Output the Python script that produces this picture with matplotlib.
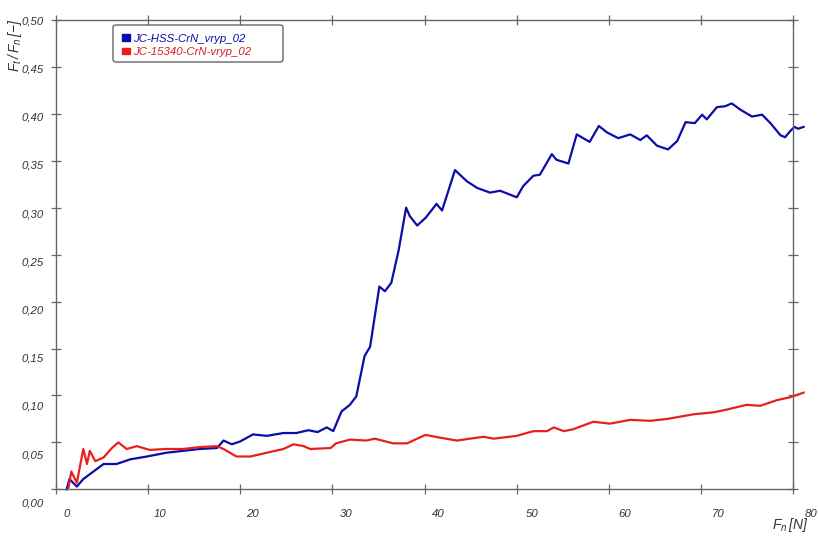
import matplotlib
matplotlib.use("Agg")
import matplotlib.pyplot as plt
import matplotlib.transforms as mtransforms
from matplotlib.patches import Patch, FancyBboxPatch

plt.rcParams['font.family'] = ['Liberation Sans', 'DejaVu Sans']
plt.rcParams['font.style'] = 'italic'
plt.rcParams['mathtext.fontset'] = 'custom'
plt.rcParams['mathtext.it'] = 'Liberation Sans:italic'
plt.rcParams['mathtext.rm'] = 'Liberation Sans:italic'

# friction coefficient vs normal load, two scratch tests
hss_label = "JC-HSS-CrN_vryp_02"
hss_x = [1.2, 1.5, 2.3, 3.0, 4.1, 5.2, 6.6, 8.1, 9.9, 12.0,
         13.8, 15.6, 17.5, 18.2, 19.1, 20.0, 21.4, 22.9, 24.7, 26.1,
         27.4, 28.4, 29.4, 30.1, 31.0, 31.9, 32.6, 33.5, 34.1, 35.1,
         35.7, 36.4, 37.2, 38.0, 38.4, 39.2, 40.1, 41.3, 41.9, 43.3,
         44.6, 45.7, 47.1, 48.2, 50.0, 50.7, 51.8, 52.5, 53.8, 54.3,
         55.6, 56.5, 57.9, 58.9, 59.8, 61.0, 62.3, 63.4, 64.1, 65.2,
         66.4, 67.4, 68.3, 69.3, 70.1, 70.6, 71.7, 72.6, 73.3, 74.3,
         75.5, 76.6, 77.5, 78.6, 79.1, 79.6, 80.1, 80.5, 81.1]
hss_y = [0.0, 0.011, 0.003, 0.011, 0.019, 0.027, 0.027, 0.032, 0.035, 0.039,
         0.041, 0.043, 0.044, 0.052, 0.048, 0.051, 0.0585, 0.057, 0.060, 0.060,
         0.063, 0.061, 0.066, 0.062, 0.083, 0.090, 0.099, 0.142, 0.152, 0.216,
         0.211, 0.220, 0.255, 0.300, 0.291, 0.281, 0.289, 0.304, 0.297, 0.340,
         0.328, 0.321, 0.316, 0.318, 0.311, 0.323, 0.334, 0.335, 0.357, 0.351,
         0.347, 0.378, 0.370, 0.387, 0.380, 0.374, 0.378, 0.372, 0.377, 0.366,
         0.362, 0.371, 0.391, 0.390, 0.399, 0.394, 0.407, 0.408, 0.411, 0.404,
         0.397, 0.399, 0.390, 0.377, 0.375, 0.381, 0.386, 0.384, 0.386]

steel_label = "JC-15340-CrN-vryp_02"
steel_x = [1.4, 1.7, 2.3, 3.0, 3.4, 3.7, 4.3, 5.2, 6.1, 6.8,
           7.7, 8.8, 10.2, 12.0, 13.8, 15.6, 17.5, 18.2, 19.6, 21.1,
           22.9, 24.7, 25.8, 26.9, 27.6, 29.8, 30.4, 31.9, 33.7, 34.6,
           36.6, 38.1, 40.1, 41.7, 43.5, 46.4, 47.5, 50.0, 51.8, 53.3,
           54.0, 55.1, 56.1, 58.3, 60.1, 62.3, 64.5, 66.3, 69.2, 71.3,
           72.8, 74.9, 76.4, 78.2, 79.6, 81.1]
steel_y = [0.002, 0.019, 0.007, 0.043, 0.027, 0.041, 0.030, 0.034, 0.044, 0.050,
           0.043, 0.046, 0.042, 0.043, 0.043, 0.045, 0.046, 0.043, 0.035, 0.035,
           0.039, 0.043, 0.048, 0.046, 0.043, 0.044, 0.049, 0.053, 0.052, 0.054,
           0.049, 0.049, 0.058, 0.055, 0.052, 0.056, 0.054, 0.057, 0.062, 0.062,
           0.066, 0.062, 0.064, 0.072, 0.070, 0.074, 0.073, 0.075, 0.080, 0.082,
           0.085, 0.090, 0.089, 0.095, 0.098, 0.103]

x_ticks = [0, 10, 20, 30, 40, 50, 60, 70, 80]
y_ticks = [0.00, 0.05, 0.10, 0.15, 0.20, 0.25, 0.30, 0.35, 0.40, 0.45, 0.50]

blue = "#0c0ca8"
red = "#e8201c"

fig = plt.figure(figsize=(8.18, 5.36), dpi=100)
ax = fig.add_axes([0.068, 0.087, 0.902, 0.876])

ax.plot(hss_x, hss_y, color=blue, lw=1.6, clip_on=False)
ax.plot(steel_x, steel_y, color=red, lw=1.6, clip_on=False)

ax.set_xlim(0, 80)
ax.set_ylim(0, 0.5)
ax.set_xticks(x_ticks)
ax.set_yticks(y_ticks)
ax.set_xticklabels([str(v) for v in x_ticks])
ax.set_yticklabels([f"{v:.2f}".replace(".", ",") for v in y_ticks])

for s in ax.spines.values():
    s.set_color("#666666")
    s.set_linewidth(1.0)
ax.tick_params(direction="inout", length=7, width=0.9, color="#666666",
               top=True, right=True, labelsize=8.2, labelcolor="#333333")
ax.tick_params(axis="x", pad=9)
ax.tick_params(axis="y", pad=5)

# the tick labels drift slightly away from their ticks
for i, lab in enumerate(ax.get_xticklabels()):
    off = mtransforms.ScaledTranslation((11 + 0.8 * i) / 100, -2 / 100, fig.dpi_scale_trans)
    lab.set_transform(lab.get_transform() + off)
for i, lab in enumerate(ax.get_yticklabels()):
    off = mtransforms.ScaledTranslation(0, -(13 - 1.25 * i) / 100, fig.dpi_scale_trans)
    lab.set_transform(lab.get_transform() + off)

fig.text(15 / 818, 1 - 18 / 536, r"$F_t\,/\,F_n\,[-]$", rotation=90,
         ha="center", va="top", fontsize=10, color="#333333")
fig.text(790 / 818, 1 - 525 / 536, r"$F_n\,[N]$", ha="center", va="center",
         fontsize=10, color="#333333")

# legend with its own rounded frame
frame = FancyBboxPatch((113 / 818, 1 - 62 / 536), 170 / 818, 37 / 536,
                       boxstyle="round,pad=0,rounding_size=0.004",
                       transform=fig.transFigure, facecolor="white",
                       edgecolor="#555555", lw=0.9)
fig.patches.append(frame)
handles = [Patch(color=blue), Patch(color=red)]
fig.legend(handles, [hss_label, steel_label], loc="upper left",
           bbox_to_anchor=(116 / 818, 1 - 28 / 536), frameon=False,
           fontsize=8.2, handlelength=0.75, handleheight=0.5,
           handletextpad=0.25, labelspacing=0.3, borderpad=0,
           labelcolor=[blue, "#d42020"])

fig.savefig("out.png", dpi=100)
